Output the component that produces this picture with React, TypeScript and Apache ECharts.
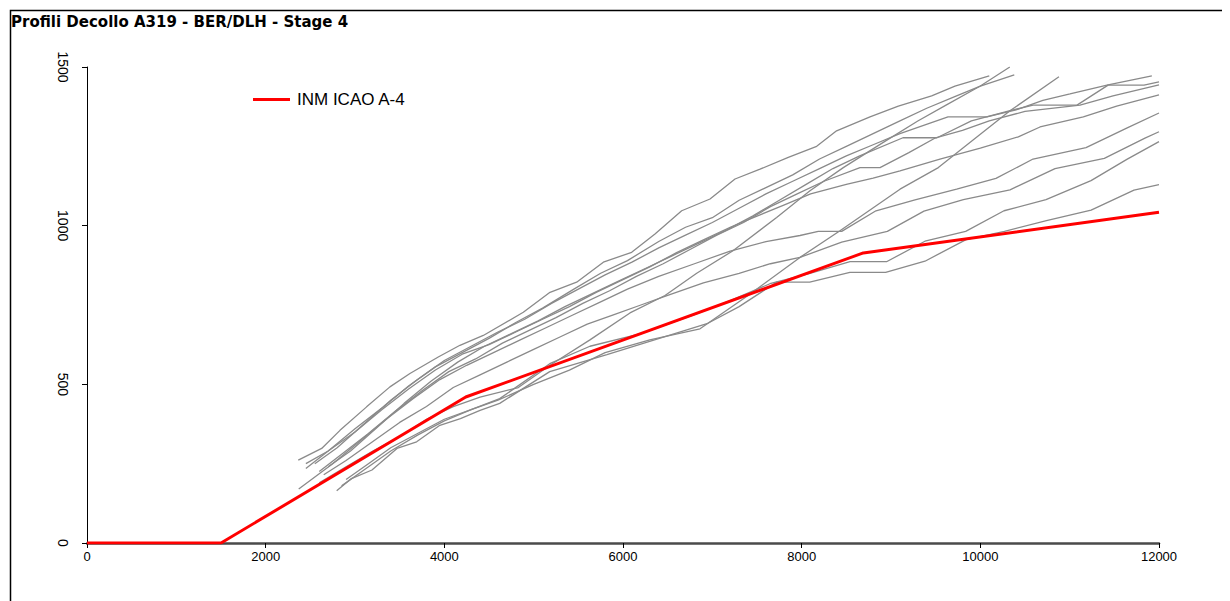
import React, { useEffect, useRef } from "react";
import * as echarts from "echarts";

const chartTitle = "Profili Decollo A319 - BER/DLH - Stage 4";
const refName = "INM ICAO A-4";

// INM reference profile [distance, altitude]
const inmIcaoA4 = [[0, 0], [1500, 0], [4240, 460], [8690, 914], [12000, 1042]];

// Measured take-off profiles [distance, altitude]
const profilo1 = [[2365, 261], [2627, 298], [2832, 355], [3130, 429], [3391, 492], [3615, 534], [3932, 586], [4175, 623], [4436, 654], [4884, 727], [5183, 790], [5481, 822], [5780, 885], [6097, 916], [6358, 974], [6657, 1047], [6974, 1084], [7254, 1147], [7534, 1178], [7850, 1215], [8168, 1250], [8391, 1299], [8765, 1343], [9082, 1377], [9455, 1409], [9716, 1440], [10100, 1472]];
const profilo2 = [[2600, 190], [2900, 240], [3200, 290], [3500, 335], [3800, 390], [4100, 430], [4400, 460], [4828, 490], [5183, 560], [5630, 640], [6078, 725], [6470, 780], [6825, 850], [7231, 921], [7720, 1026], [8093, 1110], [8466, 1183], [8900, 1260], [9300, 1330], [9616, 1380], [10000, 1440], [10330, 1500]];
const profilo3 = [[2450, 235], [2700, 290], [3000, 360], [3300, 425], [3600, 495], [3900, 555], [4200, 600], [4500, 645], [4800, 695], [5100, 740], [5450, 800], [5750, 850], [6050, 890], [6400, 950], [6700, 995], [7000, 1025], [7300, 1080], [7600, 1120], [7900, 1160], [8200, 1210], [8500, 1250], [8800, 1290], [9100, 1330], [9400, 1370], [9700, 1405], [10000, 1440], [10380, 1475]];
const profilo4 = [[2850, 180], [3100, 230], [3400, 290], [3700, 340], [4000, 385], [4300, 420], [4600, 450], [5000, 500], [5400, 545], [5800, 600], [6300, 640], [6862, 675], [7400, 780], [7981, 900], [8429, 984], [9101, 1115], [9530, 1183], [10332, 1362], [10880, 1469]];
const profilo5 = [[2700, 240], [2950, 290], [3250, 365], [3550, 440], [3850, 510], [4150, 570], [4450, 620], [4750, 660], [5050, 700], [5350, 745], [5650, 785], [5950, 825], [6250, 865], [6550, 905], [6850, 945], [7150, 985], [7450, 1030], [7750, 1080], [8050, 1130], [8350, 1180], [8650, 1220], [9134, 1277], [9515, 1277], [9900, 1330], [10300, 1360], [10590, 1380], [11082, 1380], [11430, 1443], [11832, 1443], [12000, 1453]];
const profilo6 = [[2550, 250], [2800, 300], [3100, 375], [3400, 450], [3700, 515], [4000, 575], [4300, 620], [4600, 665], [4900, 705], [5200, 755], [5500, 800], [5800, 845], [6100, 885], [6400, 930], [6700, 970], [7000, 1010], [7300, 1055], [7600, 1100], [7900, 1140], [8200, 1180], [8500, 1220], [8800, 1255], [9100, 1290], [9638, 1343], [10075, 1343], [10400, 1365], [10700, 1395], [11004, 1415], [11430, 1444], [11920, 1472]];
const profilo7 = [[2600, 225], [2850, 280], [3150, 345], [3450, 415], [3750, 480], [4050, 540], [4350, 580], [4650, 630], [4950, 670], [5250, 710], [5550, 755], [5850, 795], [6150, 840], [6450, 880], [6750, 925], [7050, 970], [7350, 1010], [7650, 1060], [7950, 1100], [8250, 1140], [8653, 1183], [8877, 1183], [9200, 1230], [9500, 1277], [9800, 1300], [10100, 1330], [10500, 1360], [11116, 1380], [11485, 1409], [12000, 1444]];
const profilo8 = [[2450, 250], [2700, 290], [3000, 350], [3300, 420], [3600, 485], [3900, 545], [4200, 595], [4500, 625], [4800, 665], [5100, 705], [5400, 745], [5700, 790], [6000, 830], [6300, 870], [6600, 915], [6900, 955], [7200, 995], [7500, 1030], [7800, 1065], [8100, 1100], [8500, 1130], [8800, 1150], [9101, 1173], [9548, 1210], [10000, 1244], [10425, 1280], [10668, 1311], [11153, 1343], [11526, 1377], [12000, 1412]];
const profilo9 = [[2370, 170], [2750, 250], [3050, 320], [3350, 390], [3650, 455], [3950, 515], [4250, 560], [4550, 600], [4850, 640], [5150, 680], [5450, 720], [5750, 760], [6050, 800], [6400, 840], [6800, 880], [7200, 920], [7600, 950], [7981, 969], [8186, 982], [8448, 982], [8832, 1047], [9269, 1081], [9735, 1115], [10175, 1149], [10590, 1210], [11183, 1246], [11650, 1309], [12000, 1355]];
const profilo10 = [[2650, 215], [2900, 260], [3200, 320], [3500, 380], [3800, 430], [4100, 490], [4400, 530], [4700, 570], [5000, 610], [5300, 650], [5600, 690], [5900, 720], [6200, 750], [6500, 780], [6900, 820], [7300, 850], [7650, 880], [7981, 900], [8448, 948], [8959, 982], [9369, 1046], [9810, 1082], [10332, 1113], [10836, 1180], [11388, 1212], [11843, 1276], [12000, 1296]];
const profilo11 = [[2900, 200], [3150, 250], [3400, 300], [3700, 345], [4000, 390], [4300, 420], [4620, 455], [5180, 565], [5630, 620], [6200, 660], [6800, 720], [7200, 764], [7645, 817], [8093, 850], [8541, 887], [8955, 887], [9380, 951], [9836, 982], [10265, 1047], [10735, 1082], [11239, 1142], [11640, 1209], [12000, 1265]];
const profilo12 = [[2795, 165], [2960, 203], [3190, 230], [3470, 298], [3690, 319], [3950, 371], [4180, 392], [4400, 418], [4620, 440], [5180, 540], [5820, 594], [6940, 691], [7300, 745], [7720, 822], [8090, 822], [8540, 853], [8940, 853], [9380, 888], [9840, 956], [10270, 982], [10740, 1016], [11240, 1049], [11720, 1112], [12000, 1129]];

const profili = [profilo1, profilo2, profilo3, profilo4, profilo5, profilo6, profilo7, profilo8, profilo9, profilo10, profilo11, profilo12];

const xMin = 0, xMax = 12000, xStep = 2000;
const yMin = 0, yMax = 1500, yStep = 500;

export default function App() {
  const ref = useRef<HTMLDivElement>(null);

  useEffect(() => {
    document.documentElement.style.overflow = "hidden";
    const chart = echarts.init(ref.current!, null, { renderer: "svg" });
    const grayStyle = { color: "#8a8a8a", width: 1.3 };
    const series: any[] = profili.map((p, i) => ({
      name: "Profilo " + (i + 1),
      type: "line",
      data: p,
      symbol: "none",
      lineStyle: grayStyle,
      itemStyle: { color: "#8a8a8a" },
      silent: true,
    }));
    series.push({
      name: refName,
      type: "line",
      data: inmIcaoA4,
      symbol: "none",
      lineStyle: { color: "#ff0000", width: 3 },
      itemStyle: { color: "#ff0000" },
      z: 5,
    });
    chart.setOption({
      animation: false,
      textStyle: { fontFamily: "Liberation Sans" },
      title: {
        text: chartTitle,
        left: 3,
        top: 6,
        padding: 0,
        textStyle: { fontFamily: "DejaVu Sans", fontWeight: "bold", fontSize: 15, color: "#000" },
      },
      legend: {
        data: [refName],
        left: 245,
        top: 83,
        padding: 0,
        itemWidth: 37,
        itemHeight: 3,
        itemGap: 0,
        icon: "rect",
        textStyle: { fontFamily: "Liberation Sans", fontSize: 17, color: "#000", padding: [0, 0, 0, 2] },
      },
      graphic: [
        {
          type: "rect",
          left: 0,
          top: 0,
          shape: { x: 0.5, y: 0.5, width: 1240, height: 620 },
          style: { fill: "none", stroke: "#000", lineWidth: 1.5 },
          silent: true,
        },
      ],
      grid: { left: 79, top: 59, width: 1072, height: 476, containLabel: false },
      xAxis: {
        type: "value",
        min: xMin,
        max: xMax,
        interval: xStep,
        splitLine: { show: false },
        axisLine: { show: true, onZero: false, lineStyle: { color: "#4a4a4a", width: 2.5 } },
        axisTick: { show: true, length: 5, lineStyle: { color: "#000", width: 1 } },
        axisLabel: {
          margin: 7,
          fontFamily: "Liberation Sans",
          fontSize: 13,
          color: "#000",
          formatter: (v: number) => String(v),
        },
      },
      yAxis: {
        type: "value",
        min: yMin,
        max: yMax,
        interval: yStep,
        splitLine: { show: false },
        axisLine: { show: true, lineStyle: { color: "#000", width: 1 } },
        axisTick: { show: true, length: 5, lineStyle: { color: "#000", width: 1 } },
        axisLabel: {
          rotate: -90,
          margin: 17,
          fontFamily: "Liberation Sans",
          fontSize: 14,
          color: "#000",
          formatter: (v: number) => String(v),
        },
      },
      series,
    });
    return () => chart.dispose();
  }, []);

  return <div ref={ref} style={{ width: 1222, height: 593 }} />;
}
